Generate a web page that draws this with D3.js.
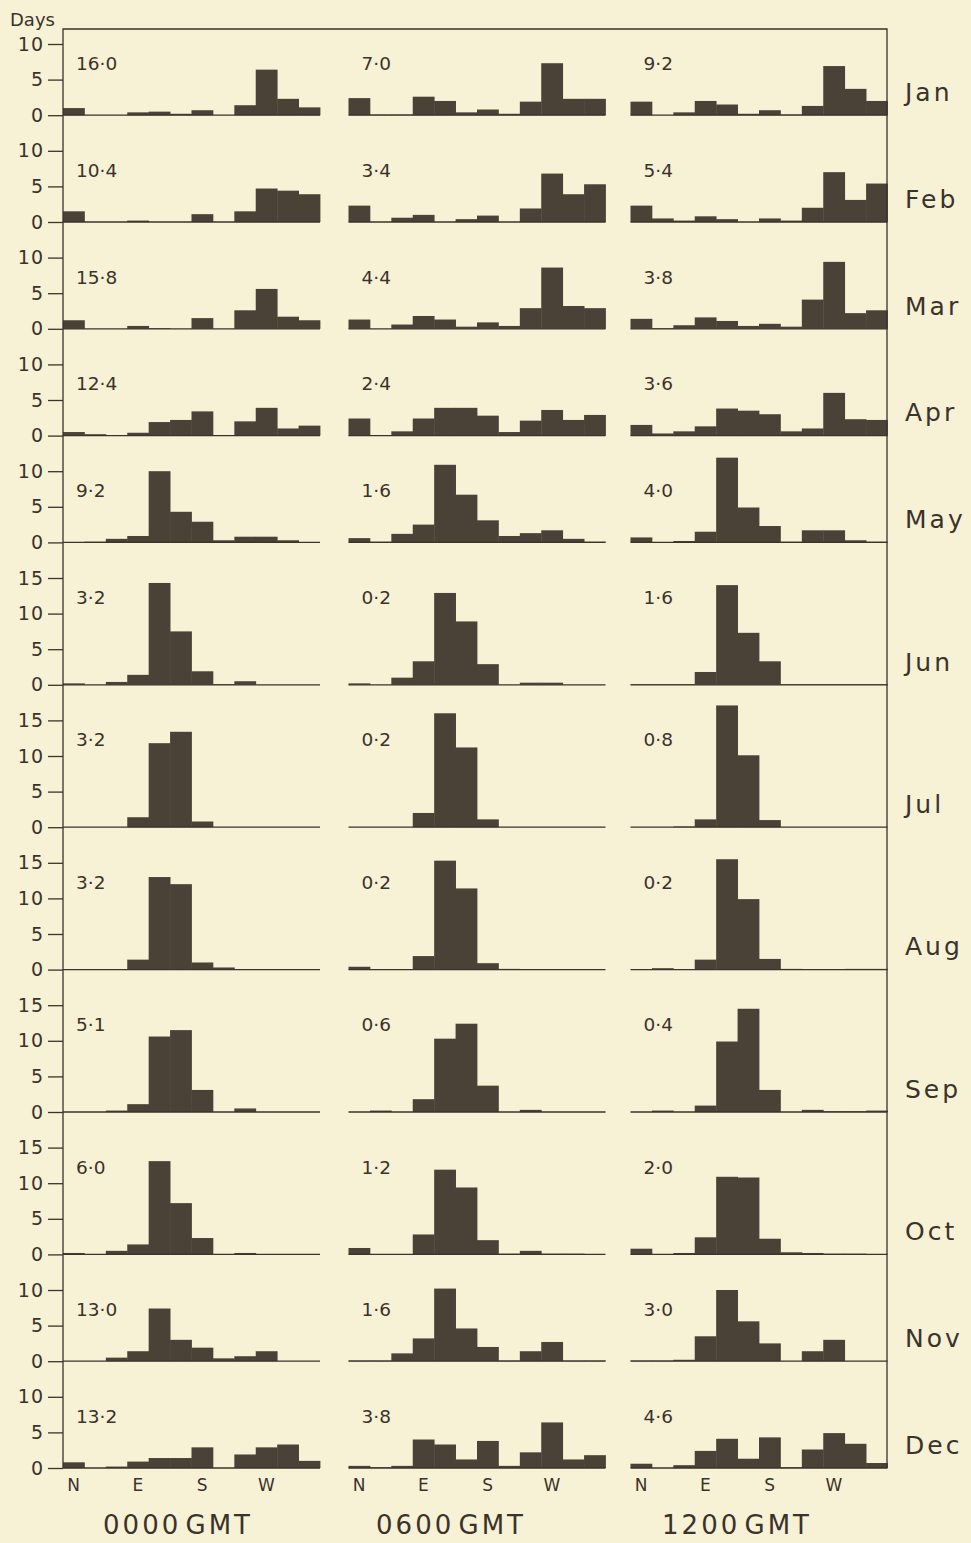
<!DOCTYPE html>
<html>
<head>
<meta charset="utf-8">
<script src="https://cdn.jsdelivr.net/npm/d3@7"></script>
<style>
  html, body { margin: 0; padding: 0; background: #f7f1d6; }
  svg { display: block; }
  text { font-family: "DejaVu Sans", sans-serif; fill: #3a332b; }
</style>
</head>
<body>
<svg id="chart" width="971" height="1543"></svg>
<script>
// Wind direction frequency (days per month) in twelve 30° sectors, N clockwise
const months = ["Jan","Feb","Mar","Apr","May","Jun","Jul","Aug","Sep","Oct","Nov","Dec"];
const times = ["0000 GMT", "0600 GMT", "1200 GMT"];
const dirBins = ["N","","","E","","","S","","","W","",""];
const monthMax = [10,10,10,10,10,15,15,15,15,15,10,10];

const days0000 = [
  [1.0, 0, 0, 0.4, 0.5, 0.2, 0.7, 0, 1.4, 6.4, 2.3, 1.1],
  [1.5, 0, 0, 0.2, 0, 0, 1.1, 0, 1.5, 4.7, 4.4, 3.9],
  [1.2, 0, 0, 0.4, 0.1, 0, 1.5, 0, 2.6, 5.6, 1.7, 1.2],
  [0.5, 0.2, 0, 0.4, 1.9, 2.2, 3.4, 0, 2.0, 3.9, 1.0, 1.4],
  [0, 0.1, 0.5, 0.9, 10.0, 4.3, 2.9, 0.3, 0.8, 0.8, 0.3, 0],
  [0.2, 0, 0.4, 1.4, 14.3, 7.5, 1.9, 0.1, 0.5, 0, 0, 0],
  [0, 0, 0, 1.4, 11.8, 13.4, 0.8, 0, 0, 0, 0, 0],
  [0, 0, 0, 1.4, 13.0, 12.0, 1.0, 0.3, 0, 0, 0, 0],
  [0, 0, 0.2, 1.1, 10.6, 11.5, 3.1, 0, 0.5, 0, 0, 0],
  [0.2, 0, 0.5, 1.4, 13.1, 7.2, 2.3, 0, 0.2, 0, 0, 0],
  [0, 0, 0.5, 1.4, 7.4, 3.0, 1.9, 0.4, 0.7, 1.4, 0, 0],
  [0.8, 0, 0.2, 0.9, 1.4, 1.4, 2.9, 0, 1.9, 2.9, 3.3, 1.0]
];
const days0600 = [
  [2.4, 0.1, 0.1, 2.6, 2.0, 0.4, 0.8, 0.2, 1.9, 7.3, 2.3, 2.3],
  [2.3, 0, 0.6, 1.0, 0, 0.4, 0.9, 0, 1.9, 6.8, 3.9, 5.3],
  [1.3, 0, 0.6, 1.8, 1.3, 0.3, 0.9, 0.4, 2.9, 8.6, 3.2, 2.9],
  [2.4, 0, 0.6, 2.4, 3.9, 3.9, 2.8, 0.5, 2.1, 3.6, 2.2, 2.9],
  [0.6, 0.1, 1.2, 2.5, 10.9, 6.7, 3.1, 0.9, 1.3, 1.7, 0.5, 0.1],
  [0.2, 0, 1.0, 3.3, 12.9, 8.9, 2.9, 0, 0.3, 0.3, 0, 0],
  [0, 0, 0, 2.0, 16.0, 11.2, 1.1, 0, 0, 0, 0, 0],
  [0.4, 0, 0, 1.9, 15.3, 11.4, 0.9, 0.1, 0, 0, 0, 0],
  [0, 0.2, 0, 1.8, 10.3, 12.4, 3.7, 0, 0.3, 0, 0, 0],
  [0.9, 0, 0, 2.8, 11.9, 9.4, 2.0, 0.1, 0.5, 0.1, 0.1, 0],
  [0.1, 0.1, 1.1, 3.2, 10.2, 4.6, 2.0, 0.1, 1.4, 2.7, 0.1, 0.1],
  [0.3, 0.1, 0.3, 4.0, 3.3, 1.2, 3.8, 0.3, 2.2, 6.4, 1.2, 1.8]
];
const days1200 = [
  [1.9, 0, 0.4, 2.0, 1.5, 0.2, 0.7, 0.1, 1.3, 6.9, 3.7, 2.0],
  [2.3, 0.5, 0.2, 0.8, 0.4, 0, 0.5, 0.2, 2.0, 7.0, 3.1, 5.4],
  [1.4, 0.1, 0.5, 1.6, 1.1, 0.4, 0.7, 0.3, 4.1, 9.4, 2.2, 2.6],
  [1.5, 0.3, 0.6, 1.3, 3.8, 3.5, 3.0, 0.6, 1.0, 6.0, 2.3, 2.2],
  [0.7, 0, 0.2, 1.5, 11.9, 4.9, 2.3, 0.1, 1.7, 1.7, 0.3, 0.1],
  [0.1, 0.1, 0.1, 1.8, 14.0, 7.3, 3.3, 0.1, 0.1, 0.1, 0.1, 0.1],
  [0, 0, 0.1, 1.1, 17.1, 10.1, 1.0, 0, 0, 0, 0, 0],
  [0, 0.2, 0, 1.4, 15.5, 9.9, 1.5, 0.1, 0, 0, 0.1, 0.1],
  [0, 0.2, 0, 0.9, 9.9, 14.5, 3.1, 0, 0.3, 0.1, 0.1, 0.2],
  [0.8, 0, 0.2, 2.4, 10.9, 10.8, 2.2, 0.3, 0.2, 0.1, 0.1, 0],
  [0.1, 0.1, 0.2, 3.5, 10.0, 5.6, 2.5, 0, 1.4, 3.0, 0, 0],
  [0.6, 0, 0.4, 2.4, 4.1, 1.3, 4.3, 0.1, 2.6, 4.9, 3.4, 0.7]
];
// Calm days, printed in the top-left of each panel
const calm0000 = [16.0, 10.4, 15.8, 12.4, 9.2, 3.2, 3.2, 3.2, 5.1, 6.0, 13.0, 13.2];
const calm0600 = [7.0, 3.4, 4.4, 2.4, 1.6, 0.2, 0.2, 0.2, 0.6, 1.2, 1.6, 3.8];
const calm1200 = [9.2, 5.4, 3.8, 3.6, 4.0, 1.6, 0.8, 0.2, 0.4, 2.0, 3.0, 4.6];

const daysByTime = [days0000, days0600, days1200];
const calmByTime = [calm0000, calm0600, calm1200];

// ---- layout ----
const ink = "#3a332b";
const barFill = "#4a4237";
const frameTop = 29;
const firstTopTick = 44;
const pxPerDay = 7.12;
const rowGap = 35.6;
const colX = [63, 348.5, 630.5];
const colW = 257;
const titleX = [178, 451, 737];
const frameLeft = 63, frameRight = 887;

// baselines of each month row, stacked downwards
const baselines = [];
let yTop = firstTopTick;
monthMax.forEach((m, i) => {
  if (i > 0) yTop = baselines[i - 1] + rowGap;
  baselines.push(yTop + m * pxPerDay);
});
const lastBase = baselines[baselines.length - 1];

const svg = d3.select("#chart");

const fmtCalm = v => d3.format(".1f")(v).replace(".", "\u00B7");

months.forEach((month, mi) => {
  const base = baselines[mi];
  const y = d3.scaleLinear()
    .domain([0, monthMax[mi]])
    .range([base, base - monthMax[mi] * pxPerDay]);

  times.forEach((t, ti) => {
    const x = d3.scaleBand().domain(d3.range(12)).range([colX[ti], colX[ti] + colW]).padding(0);
    const g = svg.append("g");
    const vals = daysByTime[ti][mi];

    g.selectAll("rect")
      .data(vals)
      .join("rect")
      .attr("x", (d, i) => x(i))
      .attr("width", x.bandwidth() + 0.4)
      .attr("y", d => y(d))
      .attr("height", d => y(0) - y(d))
      .attr("fill", barFill);

    // baseline of the panel
    g.append("line")
      .attr("x1", colX[ti]).attr("x2", colX[ti] + colW)
      .attr("y1", y(0)).attr("y2", y(0))
      .attr("stroke", ink).attr("stroke-width", 1.3);

    // calm-days figure
    g.append("text")
      .attr("x", colX[ti] + 13)
      .attr("y", y(monthMax[mi]) + 26)
      .attr("font-size", 18.5)
      .text(fmtCalm(calmByTime[ti][mi]));

    // direction labels under the last row
    if (mi === months.length - 1) {
      const ax = d3.axisBottom(x)
        .tickValues([0, 3, 6, 9])
        .tickFormat(i => dirBins[i])
        .tickSize(0)
        .tickPadding(11);
      const ag = g.append("g").attr("transform", `translate(0,${base})`).call(ax);
      ag.select(".domain").remove();
      ag.selectAll("text")
        .attr("font-size", 17)
        .attr("font-family", "DejaVu Sans, sans-serif")
        .attr("fill", ink);
    }
  });

  // day axis on the left
  const ticks = d3.range(0, monthMax[mi] + 1, 5);
  const ay = svg.append("g")
    .attr("transform", `translate(${frameLeft},0)`)
    .call(d3.axisLeft(y).tickValues(ticks).tickSize(15).tickPadding(4).tickFormat(d3.format("d")));
  ay.select(".domain").remove();
  ay.selectAll("line").attr("stroke", ink).attr("stroke-width", 1.3);
  ay.selectAll("text")
    .attr("font-size", 19)
    .attr("letter-spacing", 1)
    .attr("font-family", "DejaVu Sans, sans-serif")
    .attr("fill", ink);

  // month name on the right
  svg.append("text")
    .attr("x", 905)
    .attr("y", base - 23)
    .attr("dy", "0.35em")
    .attr("font-size", 25)
    .attr("letter-spacing", 3)
    .text(month);
});

// frame: left axis, top and right edges
svg.append("path")
  .attr("d", `M${frameLeft},${lastBase}V${frameTop}H${frameRight}V${lastBase}`)
  .attr("fill", "none")
  .attr("stroke", ink)
  .attr("stroke-width", 1.3);

svg.append("text")
  .attr("x", 10).attr("y", 26)
  .attr("font-size", 18)
  .text("Days");

// column titles
times.forEach((t, ti) => {
  svg.append("text")
    .attr("x", titleX[ti])
    .attr("y", 1534)
    .attr("text-anchor", "middle")
    .attr("font-size", 26)
    .attr("letter-spacing", 3)
    .attr("word-spacing", -7)
    .text(t);
});
</script>
</body>
</html>
